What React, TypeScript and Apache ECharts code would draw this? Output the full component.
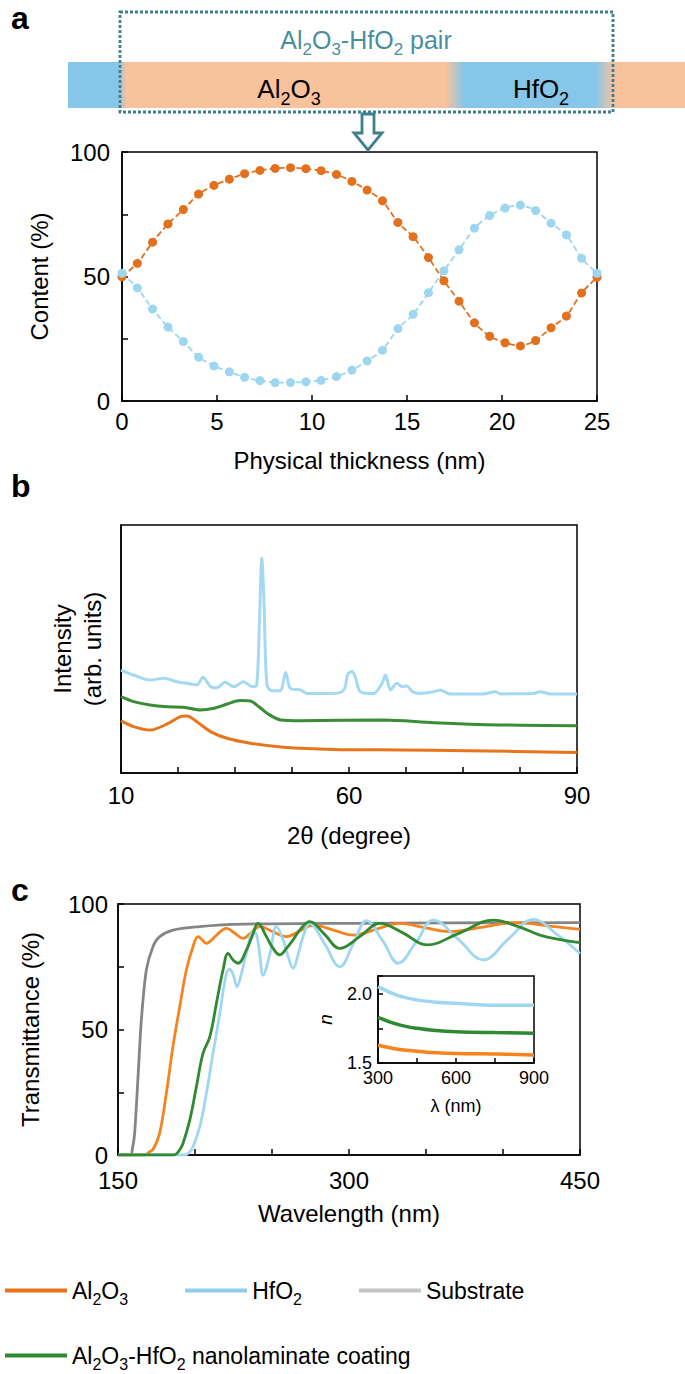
import React, { useEffect, useRef } from 'react';
import * as echarts from 'echarts';

const FONT = "'Liberation Sans', Arial, Helvetica, sans-serif";

// ---------- Panel a: composition profile ----------
const thickness = [0, 0.81, 1.61, 2.42, 3.23, 4.03, 4.84, 5.65, 6.45, 7.26, 8.06, 8.87, 9.68, 10.48, 11.29, 12.1,
  12.9, 13.71, 14.52, 15.32, 16.13, 16.94, 17.74, 18.55, 19.35, 20.16, 20.97, 21.77, 22.58, 23.39, 24.19, 25];
const al2o3Content = [49.9, 55.3, 63.8, 71.1, 76.9, 83.1, 86.6, 89.1, 91.3, 92.6, 93.4, 93.7, 93.3, 92.5, 91.0, 88.2,
  84.7, 80.4, 71.7, 66.0, 57.6, 48.3, 40.1, 31.4, 26.0, 23.4, 22.1, 24.3, 29.4, 34.1, 43.4, 49.7];
const hfo2Content = [51.3, 45.4, 36.9, 29.7, 23.9, 17.6, 14.1, 11.7, 9.5, 8.2, 7.4, 7.4, 7.7, 8.3, 9.8, 12.4,
  16.1, 20.4, 29.1, 34.8, 43.5, 52.3, 60.7, 69.4, 74.5, 77.5, 78.7, 76.5, 71.4, 66.7, 57.3, 51.3];
const contentLabels = [0, 50, 100];

// ---------- Panel b: XRD ----------
const xrdHfO2: [number, number][] = [
  [10, 41.5], [12.2, 39.5], [15.1, 37.5], [17.5, 38.2], [19.8, 36.8], [22.2, 35.9], [23.3, 35.5], [24.4, 38.6],
  [25.7, 34.8], [26.8, 34.4], [28.3, 36.6], [29.8, 34.8], [31.5, 36.8], [33.0, 34.8], [33.8, 35.5], [34.3, 61.7],
  [34.7, 86.6], [35.1, 68.4], [35.6, 35.5], [36.5, 33.2], [37.9, 33.2], [38.9, 40.5], [39.7, 34.1], [41.5, 33.5],
  [42.6, 32.1], [47.3, 32.1], [49.1, 33.5], [49.8, 39.9], [50.5, 40.9], [51.1, 38.8], [52.0, 32.8], [54.3, 32.1],
  [55.8, 36.2], [56.4, 39.5], [57.3, 33.5], [58.4, 36.2], [59.3, 34.8], [60.2, 35.1], [61.1, 32.8], [62.5, 32.1],
  [64.9, 32.8], [66.0, 33.5], [67.7, 31.9], [73.6, 31.9], [75.7, 32.8], [76.6, 31.9], [82.4, 32.1], [83.6, 32.8],
  [85.3, 31.9], [90, 31.9]];
const xrdLaminate: [number, number][] = [
  [10, 30.8], [12.2, 28.8], [15.1, 27.4], [18.1, 26.7], [21.0, 26.5], [23.9, 25.4], [26.3, 26.1], [28.6, 27.8],
  [30.9, 29.2], [32.7, 29.0], [34.2, 26.7], [35.6, 24.1], [38.0, 21.4], [41.5, 21.1], [56.1, 21.4], [64.9, 20.3],
  [76.5, 19.4], [90, 19.1]];
const xrdAl2O3: [number, number][] = [
  [10, 21.0], [12.2, 18.7], [15.1, 17.3], [18.1, 19.8], [20.4, 22.7], [21.6, 23.0], [23.3, 20.7], [25.7, 16.7],
  [28.6, 14.0], [32.7, 12.0], [38.5, 10.4], [47.3, 9.5], [59.0, 9.3], [70.7, 9.0], [90, 8.3]];
const twoThetaLabels: Record<number, string> = { 10: '10', 50: '60', 90: '90' };

// ---------- Panel c: transmittance ----------
const transSubstrate: [number, number][] = [
  [150, 0], [158, 0], [159.5, 3], [160.8, 8.6], [163, 31], [165.2, 54], [168.4, 73.7], [172.7, 83], [177.1, 87],
  [185.7, 89.6], [203, 91], [225, 91.9], [300, 92.3], [450, 92.6]];
const transAl2O3: [number, number][] = [
  [150, 0], [167, 0], [170, 1], [173, 2.5], [177, 8.6], [181.4, 24.6], [185.7, 43.2], [190.1, 59.1], [194.4, 73.7],
  [198.7, 83], [202, 87], [205, 85.5], [207.4, 84.3], [210.5, 85.5], [214, 87.6], [220.4, 90.3], [226, 88.3],
  [231.2, 86.3], [236.5, 88.6], [242.1, 91], [250.5, 89], [259.4, 87], [268, 89.3], [276.7, 91.6], [290, 89.6],
  [302.7, 87.6], [318, 90], [333, 92.3], [349, 90.6], [365.5, 89], [387, 90.8], [408.8, 92.6], [430, 91.2], [450, 89.9]];
const transLaminate: [number, number][] = [
  [150, 0], [186, 0], [188, 0.5], [190, 2], [192.2, 4.6], [196.6, 13.9], [200.9, 27.2], [205.2, 40.5], [209.6, 47.1],
  [213.9, 60.4], [218.2, 73.7], [221.5, 80.3], [224.7, 77.7], [228, 76.4], [233.4, 81.7], [237, 87], [241, 92.3],
  [246.4, 87], [250, 83], [255.1, 79.7], [259, 82], [263.7, 85.7], [268.5, 90], [274.5, 93], [284, 88], [294, 82.3],
  [307, 87], [320, 92.3], [335, 88.5], [350.4, 83.7], [372, 88.5], [393.7, 93.6], [410, 91], [424, 87.6],
  [437, 85.8], [450, 84.6]];
const transHfO2: [number, number][] = [
  [150, 0], [193, 0], [196, 0.8], [198.7, 3.3], [203.1, 11.3], [207.4, 24.6], [211.7, 40.5], [216.1, 56.4],
  [220.4, 72.4], [222.5, 74], [224.7, 72], [227.3, 67.1], [230, 72], [233.4, 80.3], [237.7, 89], [239.9, 88],
  [242, 80], [244.2, 71.7], [248.6, 80], [252.9, 91], [257.2, 85.7], [260.5, 79], [263.7, 74.4], [267, 80],
  [270.2, 87], [274.5, 92.3], [284.3, 84], [294, 75], [302.7, 84], [311.4, 93.4], [322.2, 85], [331.9, 76.4],
  [343.8, 85], [354.7, 93.6], [370.9, 86], [387.2, 77.7], [403.4, 86], [419.7, 93.9], [434.8, 88], [450, 80.3]];
const wavelengthLabels = [150, 300, 450];
const transLabels = [0, 50, 100];

// ---------- Inset: refractive index ----------
const nHfO2: [number, number][] = [[300, 2.053], [375, 1.99], [450, 1.957], [525, 1.94], [600, 1.933], [750, 1.918], [900, 1.918]];
const nLaminate: [number, number][] = [[300, 1.831], [375, 1.78], [450, 1.751], [525, 1.735], [600, 1.727], [750, 1.72], [900, 1.715]];
const nAl2O3: [number, number][] = [[300, 1.628], [375, 1.6], [450, 1.585], [525, 1.574], [600, 1.568], [750, 1.565], [900, 1.558]];
const insetXLabels = [300, 600, 900];

const C = {
  orangeA: '#E2701C', blueA: '#9ED6F0',
  orange: '#F5841F', blue: '#9FD7F1', green: '#2F8A32', gray: '#858585',
  orangeB: '#E8741B', blueB: '#A5D9F1', greenB: '#3A8C37',
  teal: '#3F7F8E',
};

const SUB = { fontSize: 16, fontFamily: FONT, padding: [18, 0, 0, 0] as number[] };
const fmtChem = (name: string) => {
  const map: Record<string, string> = {
    'Al2O3': 'Al{s|2}O{s|3}',
    'HfO2': 'HfO{s|2}',
    'Substrate': 'Substrate',
    'Al2O3-HfO2 nanolaminate coating': 'Al{s|2}O{s|3}-HfO{s|2} nanolaminate coating',
  };
  return map[name] ?? name;
};

const FS = 24;
const axisText = { color: '#000', fontFamily: FONT, fontSize: FS };
const blackLine = { show: true, lineStyle: { color: '#000', width: 1.5 } };

export default function App() {
  const ref = useRef<HTMLDivElement>(null);
  useEffect(() => {
    const chart = echarts.init(ref.current!, null, { renderer: 'svg' });
    const barGradient = new echarts.graphic.LinearGradient(0, 0, 1, 0, [
      { offset: 0, color: '#86C6E8' }, { offset: 0.08, color: '#86C6E8' }, { offset: 0.095, color: '#F8C29D' },
      { offset: 0.612, color: '#F8C29D' }, { offset: 0.642, color: '#86C6E8' }, { offset: 0.855, color: '#86C6E8' },
      { offset: 0.885, color: '#F8C29D' }, { offset: 1, color: '#F8C29D' },
    ]);
    const option: any = {
      animation: false,
      backgroundColor: '#fff',
      textStyle: { fontFamily: FONT },
      grid: [
        { left: 122, top: 152, width: 475, height: 249, show: true, borderColor: '#000', borderWidth: 1.5, outerBoundsMode: 'none' },
        { left: 121, top: 525, width: 456, height: 248, show: true, borderColor: '#000', borderWidth: 1.5, outerBoundsMode: 'none' },
        { left: 118, top: 904, width: 462, height: 251, show: true, borderColor: '#000', borderWidth: 1.5, outerBoundsMode: 'none' },
        { left: 378, top: 976, width: 156, height: 87, show: true, borderColor: '#000', borderWidth: 1.5, backgroundColor: '#fff', outerBoundsMode: 'none' },
      ],
      xAxis: [
        {
          gridIndex: 0, type: 'value', min: 0, max: 25, interval: 5,
          axisLine: blackLine, splitLine: { show: false },
          axisTick: { inside: true, length: 6, lineStyle: { color: '#000', width: 1.5 } },
          axisLabel: { ...axisText, margin: 8 },
          name: 'Physical thickness (nm)', nameLocation: 'middle', nameGap: 47, nameTextStyle: { ...axisText },
        },
        {
          gridIndex: 1, type: 'value', min: 10, max: 90, interval: 10,
          axisLine: blackLine, splitLine: { show: false },
          axisTick: { inside: true, length: 6, lineStyle: { color: '#000', width: 1.5 } },
          axisLabel: { ...axisText, margin: 10, formatter: (v: number) => twoThetaLabels[v] ?? '' },
          name: '2θ (degree)', nameLocation: 'middle', nameGap: 50, nameTextStyle: { ...axisText },
        },
        {
          gridIndex: 2, type: 'value', min: 150, max: 450, interval: 50,
          axisLine: blackLine, splitLine: { show: false },
          axisTick: { inside: true, length: 6, lineStyle: { color: '#000', width: 1.5 } },
          axisLabel: { ...axisText, margin: 13, lineHeight: 24, formatter: (v: number) => (wavelengthLabels.includes(v) ? String(v) : '') },
          name: 'Wavelength (nm)', nameLocation: 'middle', nameGap: 46, nameTextStyle: { ...axisText },
        },
        {
          gridIndex: 3, type: 'value', min: 300, max: 900, interval: 150,
          axisLine: blackLine, splitLine: { show: false },
          axisTick: { inside: true, length: 5, lineStyle: { color: '#000', width: 1.5 } },
          axisLabel: { color: '#000', fontFamily: FONT, fontSize: 18, margin: 6, formatter: (v: number) => (insetXLabels.includes(v) ? String(v) : '') },
          name: 'λ (nm)', nameLocation: 'middle', nameGap: 34, nameTextStyle: { color: '#000', fontFamily: FONT, fontSize: 18 },
        },
      ],
      yAxis: [
        {
          gridIndex: 0, type: 'value', min: 0, max: 100, interval: 25,
          axisLine: blackLine, splitLine: { show: false },
          axisTick: { inside: true, length: 6, lineStyle: { color: '#000', width: 1.5 } },
          axisLabel: { ...axisText, margin: 12, formatter: (v: number) => (contentLabels.includes(v) ? String(v) : '') },
          name: 'Content (%)', nameLocation: 'middle', nameRotate: 90, nameGap: 71, nameTextStyle: { ...axisText },
        },
        {
          gridIndex: 1, type: 'value', min: 0, max: 100,
          axisLine: blackLine, splitLine: { show: false }, axisTick: { show: false }, axisLabel: { show: false },
          name: 'Intensity\n(arb. units)', nameLocation: 'middle', nameRotate: 90, nameGap: 14,
          nameTextStyle: { ...axisText, lineHeight: 30 },
        },
        {
          gridIndex: 2, type: 'value', min: 0, max: 100, interval: 25,
          axisLine: blackLine, splitLine: { show: false },
          axisTick: { inside: true, length: 6, lineStyle: { color: '#000', width: 1.5 } },
          axisLabel: { ...axisText, margin: 10, lineHeight: 22, formatter: (v: number) => (transLabels.includes(v) ? String(v) : '') },
          name: 'Transmittance (%)', nameLocation: 'middle', nameRotate: 90, nameGap: 76, nameTextStyle: { ...axisText },
        },
        {
          gridIndex: 3, type: 'value', min: 1.5, max: 2.13, interval: 0.25,
          axisLine: blackLine, splitLine: { show: false },
          axisTick: { inside: true, length: 5, lineStyle: { color: '#000', width: 1.5 } },
          axisLabel: {
            color: '#000', fontFamily: FONT, fontSize: 18, margin: 6,
            formatter: (v: number) => (Math.abs(v - 1.5) < 1e-6 ? '1.5' : Math.abs(v - 2) < 1e-6 ? '2.0' : ''),
          },
          name: 'n', nameLocation: 'middle', nameRotate: 90, nameGap: 43,
          nameTextStyle: { color: '#000', fontFamily: FONT, fontSize: 19, fontStyle: 'italic' },
        },
      ],
      legend: [
        {
          left: 0, top: 1274, orient: 'horizontal', itemWidth: 62, itemHeight: 4, itemGap: 57, icon: 'rect',
          selectedMode: false,
          data: [
            { name: 'Al2O3', itemStyle: { color: '#E8741B' } },
            { name: 'HfO2', itemStyle: { color: '#8FCDEA' } },
            { name: 'Substrate', itemStyle: { color: '#C4C4C4' } },
          ],
          formatter: fmtChem,
          textStyle: { color: '#000', fontFamily: FONT, fontSize: 23, rich: { s: SUB } },
        },
        {
          left: 0, top: 1339, orient: 'horizontal', itemWidth: 62, itemHeight: 4, icon: 'rect',
          selectedMode: false,
          data: [{ name: 'Al2O3-HfO2 nanolaminate coating', itemStyle: { color: '#2F8A32' } }],
          formatter: fmtChem,
          textStyle: { color: '#000', fontFamily: FONT, fontSize: 23, rich: { s: SUB } },
        },
      ],
      series: [
        // panel c
        { name: 'Substrate', type: 'line', xAxisIndex: 2, yAxisIndex: 2, data: transSubstrate, showSymbol: false, smooth: 0.3, lineStyle: { color: C.gray, width: 2.8 }, itemStyle: { color: C.gray } },
        { name: 'Al2O3', type: 'line', xAxisIndex: 2, yAxisIndex: 2, data: transAl2O3, showSymbol: false, smooth: 0.4, lineStyle: { color: C.orange, width: 2.8 }, itemStyle: { color: C.orange } },
        { name: 'HfO2', type: 'line', xAxisIndex: 2, yAxisIndex: 2, data: transHfO2, showSymbol: false, smooth: 0.4, lineStyle: { color: C.blue, width: 2.8 }, itemStyle: { color: C.blue } },
        { name: 'Al2O3-HfO2 nanolaminate coating', type: 'line', xAxisIndex: 2, yAxisIndex: 2, data: transLaminate, showSymbol: false, smooth: 0.4, lineStyle: { color: C.green, width: 2.8 }, itemStyle: { color: C.green } },
        // inset
        { name: 'n HfO2', type: 'line', xAxisIndex: 3, yAxisIndex: 3, data: nHfO2, showSymbol: false, smooth: 0.4, lineStyle: { color: C.blue, width: 3.5 } },
        { name: 'n laminate', type: 'line', xAxisIndex: 3, yAxisIndex: 3, data: nLaminate, showSymbol: false, smooth: 0.4, lineStyle: { color: C.green, width: 3.5 } },
        { name: 'n Al2O3', type: 'line', xAxisIndex: 3, yAxisIndex: 3, data: nAl2O3, showSymbol: false, smooth: 0.4, lineStyle: { color: C.orange, width: 3.5 } },
        // panel a
        {
          name: 'Al2O3 content', type: 'line', xAxisIndex: 0, yAxisIndex: 0,
          data: thickness.map((t, i) => [t, al2o3Content[i]]),
          symbol: 'circle', symbolSize: 9, smooth: 0.2,
          lineStyle: { color: C.orangeA, width: 1.8, type: [6, 3] }, itemStyle: { color: C.orangeA },
        },
        {
          name: 'HfO2 content', type: 'line', xAxisIndex: 0, yAxisIndex: 0,
          data: thickness.map((t, i) => [t, hfo2Content[i]]),
          symbol: 'circle', symbolSize: 9, smooth: 0.2,
          lineStyle: { color: C.blueA, width: 1.8, type: [6, 3] }, itemStyle: { color: C.blueA },
        },
        // panel b
        { name: 'XRD HfO2', type: 'line', xAxisIndex: 1, yAxisIndex: 1, data: xrdHfO2, showSymbol: false, smooth: 0.3, lineStyle: { color: C.blueB, width: 3 } },
        { name: 'XRD laminate', type: 'line', xAxisIndex: 1, yAxisIndex: 1, data: xrdLaminate, showSymbol: false, smooth: 0.3, lineStyle: { color: C.greenB, width: 3 } },
        { name: 'XRD Al2O3', type: 'line', xAxisIndex: 1, yAxisIndex: 1, data: xrdAl2O3, showSymbol: false, smooth: 0.3, lineStyle: { color: C.orangeB, width: 3 } },
      ],
      graphic: [
        { type: 'text', left: 11, top: 2, style: { text: 'a', fontSize: 32, fontWeight: 'bold', fontFamily: FONT, fill: '#000' } },
        { type: 'text', left: 11, top: 470, style: { text: 'b', fontSize: 32, fontWeight: 'bold', fontFamily: FONT, fill: '#000' } },
        { type: 'text', left: 11, top: 874, style: { text: 'c', fontSize: 32, fontWeight: 'bold', fontFamily: FONT, fill: '#000' } },
        { type: 'rect', shape: { x: 68, y: 62, width: 617, height: 46 }, style: { fill: barGradient } },
        { type: 'rect', shape: { x: 120, y: 12, width: 493, height: 100 }, style: { fill: 'none', stroke: C.teal, lineWidth: 2.8, lineDash: [3, 2] } },
        {
          type: 'text', x: 366, y: 40,
          style: {
            text: 'Al{s|2}O{s|3}-HfO{s|2} pair', fontSize: 25, fontFamily: FONT, fill: '#4A8E9E',
            align: 'center', verticalAlign: 'middle',
            rich: { s: { fontSize: 17, fontFamily: FONT, fill: '#4A8E9E', padding: [19, 0, 0, 0] } },
          },
        },
        {
          type: 'text', x: 289, y: 89,
          style: {
            text: 'Al{s|2}O{s|3}', fontSize: 26, fontFamily: FONT, fill: '#000', align: 'center', verticalAlign: 'middle',
            rich: { s: { fontSize: 18, fontFamily: FONT, fill: '#000', padding: [20, 0, 0, 0] } },
          },
        },
        {
          type: 'text', x: 541, y: 89,
          style: {
            text: 'HfO{s|2}', fontSize: 26, fontFamily: FONT, fill: '#000', align: 'center', verticalAlign: 'middle',
            rich: { s: { fontSize: 18, fontFamily: FONT, fill: '#000', padding: [20, 0, 0, 0] } },
          },
        },
        {
          type: 'polygon',
          shape: { points: [[362, 114], [374, 114], [374, 133], [382, 133], [368, 150], [354, 133], [362, 133]] },
          style: { fill: '#fff', stroke: C.teal, lineWidth: 2.8 },
        },
      ],
    };
    chart.setOption(option);
    return () => chart.dispose();
  }, []);
  return <div ref={ref} style={{ position: 'absolute', left: 0, top: 0, width: 685, height: 1374 }} />;
}
